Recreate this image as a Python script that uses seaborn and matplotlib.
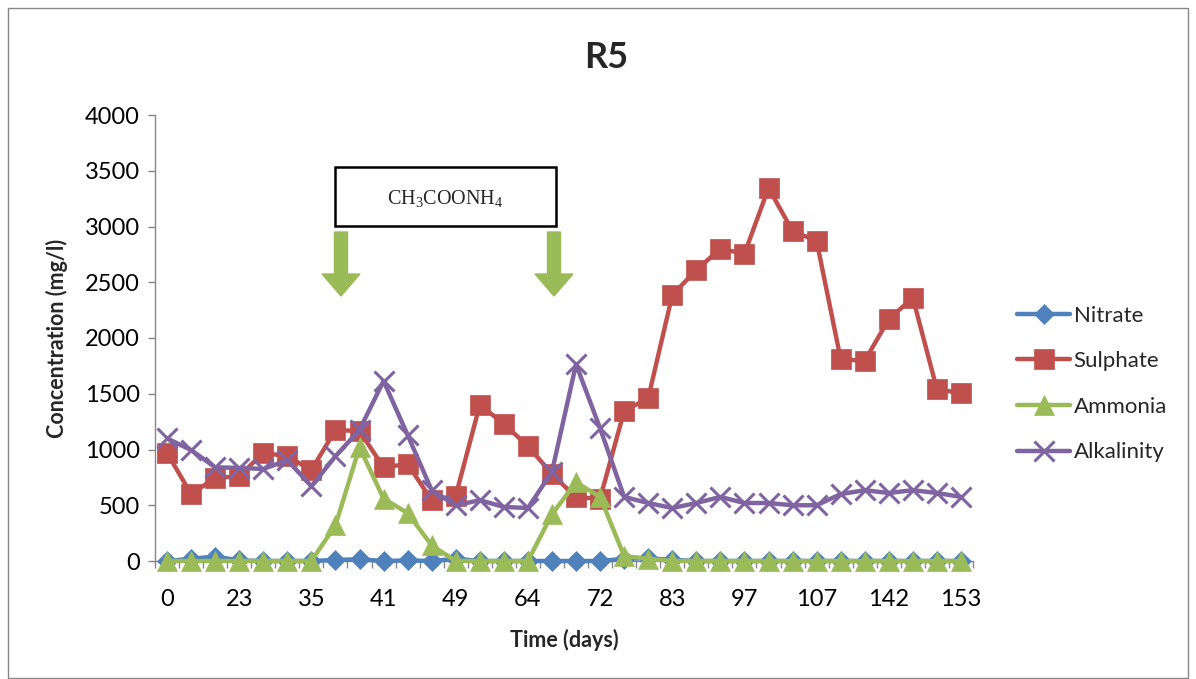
import matplotlib
matplotlib.use("Agg")
import matplotlib.pyplot as plt
from matplotlib.patches import FancyArrow, Rectangle
from matplotlib.transforms import IdentityTransform
import numpy as np
import pandas as pd
import seaborn as sns

# Sampling occasions (34 samples); only every third day is labelled on the axis
day_labels = ["0", "23", "35", "41", "49", "64", "72", "83", "97", "107", "142", "153"]
n_samples = 34

nitrate = [0, 20, 40, 5, 0, 0, 0, 10, 15, 0, 5, 0, 20, 0, 0, 0,
           0, 0, 0, 20, 25, 10, 0, 0, 0, 0, 0, 0, 0, 0, 0, 0, 0, 0]
sulphate = [970, 600, 745, 760, 970, 940, 815, 1175, 1165, 840, 870, 545,
            585, 1400, 1230, 1030, 780, 570, 560, 1345, 1460, 2385, 2610,
            2800, 2755, 3345, 2960, 2870, 1810, 1795, 2170, 2360, 1540, 1505]
ammonia = [0, 0, 0, 0, 0, 0, 0, 320, 1020, 560, 430, 140, 0, 0, 0, 0,
           420, 705, 575, 45, 20, 0, 0, 0, 0, 0, 0, 0, 0, 0, 0, 0, 0, 0]
alkalinity = [1100, 995, 840, 835, 825, 905, 670, 940, 1175, 1615, 1130, 635,
              500, 545, 485, 475, 800, 1765, 1190, 575, 520, 475, 520, 575,
              520, 520, 500, 500, 600, 635, 610, 635, 610, 575]

series_names = ["Nitrate", "Sulphate", "Ammonia", "Alkalinity"]
series_colors = ["#4F81BD", "#C0504D", "#9BBB59", "#8064A2"]
series_markers = ["D", "s", "^", "x"]
series_msize = [10, 14, 14, 15]

sns.set_theme(style="white")
plt.rcParams["font.family"] = ["Lato", "DejaVu Sans"]
plt.rcParams["mathtext.fontset"] = "custom"
plt.rcParams["mathtext.rm"] = "Liberation Serif"
plt.rcParams["mathtext.it"] = "Liberation Serif:italic"

W, H = 1196, 679
fig = plt.figure(figsize=(W / 100, H / 100), dpi=100)
ax = fig.add_axes([155 / W, 1 - 561 / H, (973 - 155) / W, (561 - 115) / H])

idx = np.arange(n_samples)
frame = pd.DataFrame({
    "sample": np.tile(idx, 4),
    "value": nitrate + sulphate + ammonia + alkalinity,
    "series": np.repeat(series_names, n_samples),
})

for name, col, mk, ms in zip(series_names, series_colors, series_markers, series_msize):
    sub = frame[frame["series"] == name]
    sns.lineplot(data=sub, x="sample", y="value", ax=ax, color=col,
                 linewidth=3.2, marker=mk, markersize=ms,
                 markeredgecolor=col, markeredgewidth=2.2 if mk == "x" else 0.5,
                 label=name, clip_on=False, zorder=3)

ax.set_xlim(-0.5, n_samples - 0.5)
ax.set_ylim(0, 4000)
ax.set_yticks(np.arange(0, 4001, 500))
ax.set_xticks(idx[::3])
ax.set_xticklabels(day_labels)
ax.set_xticks(np.arange(-0.5, n_samples, 1.0), minor=True)

for side in ["top", "right"]:
    ax.spines[side].set_visible(False)
for side in ["left", "bottom"]:
    ax.spines[side].set_color("#868686")
    ax.spines[side].set_linewidth(1.0)

ax.tick_params(axis="y", which="major", direction="out", length=5, width=1,
               color="#868686", labelsize=17, pad=6, left=True)
ax.tick_params(axis="x", which="major", length=0, labelsize=17, pad=20, bottom=True)
ax.tick_params(axis="x", which="minor", direction="out", length=5, width=1,
               color="#868686", bottom=True)
for lbl in ax.get_xticklabels() + ax.get_yticklabels():
    lbl.set_color("#000000")

ax.set_xlabel("Time (days)", fontsize=15.5, fontweight="bold", labelpad=14)
ax.set_ylabel("Concentration (mg/l)", fontsize=15.5, fontweight="bold", labelpad=12)
ax.grid(False)

fig.text(606 / W, 1 - 58 / H, "R5", ha="center", va="center",
         fontsize=26, fontweight="bold")

leg = ax.legend(loc="center left", bbox_to_anchor=(1006 / W, 1 - 384 / H),
                bbox_transform=fig.transFigure, frameon=False, fontsize=16,
                handlelength=2.4, handletextpad=0.15, labelspacing=1.15,
                borderpad=0)

# Dosing annotation box and arrows
fig.text((335 + 556) / 2 / W, 1 - 198 / H, r"$\mathrm{CH_3COONH_4}$",
         ha="center", va="center", fontsize=14.5)
fig.add_artist(Rectangle((335, H - 226), 221, 59, transform=IdentityTransform(),
                         fill=False, edgecolor="black", linewidth=1.8))
for xc in (341, 554):
    fig.add_artist(FancyArrow(xc, H - 232, 0, -64, width=13, head_width=38,
                              head_length=22, length_includes_head=True,
                              color="#9BBB59", transform=IdentityTransform()))

# Chart outline
fig.add_artist(Rectangle((8, 1), W - 16, H - 9, transform=IdentityTransform(),
                         fill=False, edgecolor="#868686", linewidth=1.0))

fig.savefig("out.png", dpi=100)
